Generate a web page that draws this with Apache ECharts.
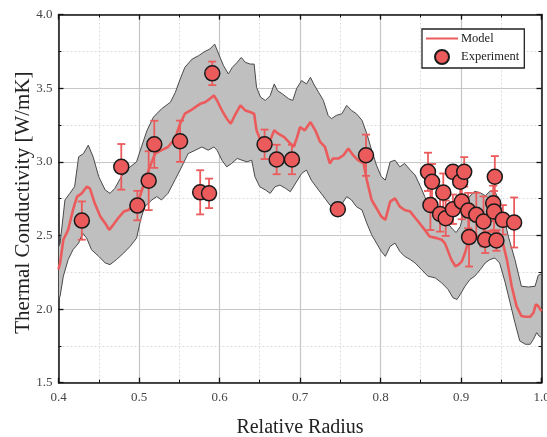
<!DOCTYPE html>
<html>
<head>
<meta charset="utf-8">
<script src="https://cdn.jsdelivr.net/npm/echarts@6/dist/echarts.min.js"></script>
<style>html,body{margin:0;padding:0;background:#fff}#c{width:547px;height:437px}</style>
</head>
<body>
<div id="c"></div>
<script>
const xTicks = [0.4, 0.5, 0.6, 0.7, 0.8, 0.9, 1.0];
const yTicks = [1.5, 2.0, 2.5, 3.0, 3.5, 4.0];

const bandUpper = [[0.400,2.42],[0.402,2.448],[0.408,2.741],[0.414,2.786],[0.420,2.831],[0.425,3.034],[0.431,3.056],[0.437,3.113],[0.443,3.034],[0.450,2.899],[0.458,2.809],[0.464,2.786],[0.470,2.820],[0.478,2.899],[0.489,2.966],[0.497,3.000],[0.503,3.101],[0.510,3.214],[0.518,3.304],[0.528,3.360],[0.539,3.405],[0.545,3.47],[0.551,3.56],[0.557,3.642],[0.566,3.698],[0.574,3.721],[0.582,3.750],[0.588,3.766],[0.594,3.800],[0.599,3.732],[0.605,3.653],[0.611,3.597],[0.616,3.642],[0.622,3.676],[0.627,3.709],[0.632,3.676],[0.638,3.664],[0.643,3.664],[0.646,3.507],[0.651,3.439],[0.657,3.417],[0.663,3.450],[0.668,3.529],[0.672,3.484],[0.678,3.462],[0.686,3.428],[0.691,3.417],[0.696,3.50],[0.702,3.552],[0.708,3.529],[0.713,3.574],[0.717,3.529],[0.723,3.473],[0.729,3.417],[0.735,3.315],[0.739,3.293],[0.745,3.315],[0.752,3.327],[0.758,3.383],[0.764,3.349],[0.770,3.327],[0.777,3.282],[0.783,3.191],[0.789,3.079],[0.795,2.977],[0.801,2.899],[0.806,2.876],[0.812,3.000],[0.818,3.011],[0.824,2.966],[0.830,2.989],[0.837,2.944],[0.843,2.91],[0.849,2.84],[0.855,2.764],[0.861,2.673],[0.868,2.62],[0.876,2.60],[0.884,2.58],[0.890,2.54],[0.894,2.52],[0.899,2.56],[0.904,2.66],[0.910,2.76],[0.917,2.80],[0.924,2.79],[0.930,2.77],[0.936,2.80],[0.942,2.80],[0.947,2.74],[0.953,2.63],[0.959,2.49],[0.967,2.336],[0.975,2.155],[0.984,2.15],[0.992,2.155],[0.996,2.23],[1.000,2.24]];

const bandLower = [[0.400,2.06],[0.402,2.088],[0.406,2.223],[0.412,2.336],[0.418,2.403],[0.425,2.448],[0.430,2.516],[0.435,2.482],[0.441,2.403],[0.450,2.358],[0.458,2.313],[0.464,2.302],[0.472,2.336],[0.481,2.381],[0.489,2.426],[0.497,2.482],[0.502,2.606],[0.507,2.696],[0.516,2.741],[0.522,2.764],[0.528,2.741],[0.536,2.786],[0.545,2.88],[0.553,2.966],[0.561,3.056],[0.570,3.079],[0.578,3.101],[0.586,3.079],[0.593,3.101],[0.597,3.079],[0.603,3.011],[0.609,2.966],[0.615,2.989],[0.622,3.023],[0.628,3.011],[0.634,3.000],[0.640,3.011],[0.644,2.899],[0.650,2.831],[0.657,2.809],[0.663,2.786],[0.669,2.831],[0.675,2.842],[0.682,2.820],[0.688,2.797],[0.694,2.85],[0.702,2.921],[0.708,2.944],[0.714,2.876],[0.723,2.809],[0.731,2.752],[0.737,2.707],[0.743,2.685],[0.750,2.696],[0.758,2.764],[0.764,2.741],[0.770,2.696],[0.777,2.673],[0.783,2.583],[0.789,2.505],[0.795,2.448],[0.801,2.392],[0.806,2.358],[0.812,2.426],[0.818,2.448],[0.824,2.392],[0.830,2.358],[0.837,2.336],[0.843,2.313],[0.851,2.268],[0.859,2.223],[0.868,2.212],[0.876,2.178],[0.884,2.133],[0.890,2.077],[0.895,2.065],[0.899,2.099],[0.905,2.155],[0.911,2.200],[0.917,2.223],[0.924,2.268],[0.930,2.313],[0.936,2.336],[0.942,2.347],[0.948,2.313],[0.955,2.178],[0.961,2.043],[0.967,1.908],[0.973,1.784],[0.980,1.761],[0.986,1.761],[0.990,1.795],[0.994,1.840],[0.997,1.817],[1.000,1.806]];

const modelMean = [[0.400,2.27],[0.402,2.313],[0.406,2.471],[0.412,2.538],[0.418,2.673],[0.423,2.764],[0.429,2.786],[0.435,2.831],[0.439,2.820],[0.445,2.718],[0.452,2.628],[0.458,2.583],[0.463,2.538],[0.468,2.572],[0.474,2.617],[0.481,2.662],[0.487,2.673],[0.495,2.718],[0.501,2.764],[0.505,2.831],[0.512,2.944],[0.520,3.056],[0.528,3.079],[0.536,3.101],[0.545,3.16],[0.551,3.259],[0.557,3.327],[0.564,3.349],[0.570,3.372],[0.576,3.394],[0.582,3.405],[0.588,3.428],[0.593,3.450],[0.597,3.417],[0.603,3.349],[0.609,3.293],[0.614,3.259],[0.619,3.315],[0.626,3.383],[0.632,3.349],[0.638,3.338],[0.643,3.327],[0.646,3.214],[0.651,3.146],[0.657,3.124],[0.663,3.146],[0.668,3.214],[0.673,3.191],[0.680,3.169],[0.686,3.135],[0.692,3.101],[0.696,3.16],[0.700,3.236],[0.706,3.214],[0.713,3.270],[0.719,3.214],[0.725,3.135],[0.731,3.101],[0.737,2.989],[0.741,3.023],[0.748,3.023],[0.754,3.045],[0.760,3.090],[0.766,3.045],[0.772,3.011],[0.779,2.989],[0.783,2.876],[0.789,2.741],[0.795,2.685],[0.801,2.628],[0.806,2.606],[0.812,2.730],[0.818,2.752],[0.824,2.696],[0.830,2.673],[0.837,2.662],[0.843,2.62],[0.849,2.58],[0.855,2.538],[0.861,2.493],[0.870,2.482],[0.876,2.471],[0.880,2.448],[0.884,2.392],[0.888,2.336],[0.893,2.291],[0.897,2.302],[0.901,2.324],[0.905,2.381],[0.909,2.459],[0.915,2.505],[0.922,2.493],[0.928,2.516],[0.934,2.527],[0.940,2.538],[0.946,2.527],[0.951,2.471],[0.957,2.336],[0.963,2.155],[0.969,2.020],[0.975,1.953],[0.980,1.948],[0.986,1.948],[0.990,1.975],[0.993,2.032],[0.996,2.020],[1.000,1.986]];

const expX = [0.429,0.478,0.498,0.512,0.519,0.551,0.576,0.587,0.591,0.656,0.671,0.690,0.747,0.782,0.859,0.864,0.862,0.874,0.878,0.881,0.890,0.890,0.899,0.904,0.901,0.909,0.910,0.919,0.928,0.930,0.940,0.942,0.941,0.944,0.952,0.966];
const expY = [2.601,2.966,2.703,2.872,3.119,3.140,2.793,2.786,3.601,3.119,3.016,3.016,2.678,3.045,2.932,2.865,2.707,2.646,2.791,2.617,2.678,2.932,2.865,2.932,2.730,2.669,2.489,2.640,2.595,2.471,2.718,2.899,2.662,2.466,2.606,2.588];
const expErr = [0.13,0.155,0.10,0.20,0.16,0.14,0.15,0.10,0.08,0.10,0.10,0.10,0.02,0.14,0.13,0.12,0.17,0.12,0.13,0.12,0.10,0.03,0.10,0.10,0.12,0.12,0.20,0.15,0.17,0.09,0.12,0.14,0.14,0.07,0.10,0.17];

const FONT = '"Liberation Serif", "DejaVu Serif", serif';
const RED = '#ec5b5c';

const chart = echarts.init(document.getElementById('c'), null, {renderer: 'canvas'});

const expData = expX.map((x, i) => [x, expY[i]]);
const errData = expX.map((x, i) => [x, expY[i] - expErr[i], expY[i] + expErr[i]]);

function axisCommon(pos, ticks) {
  return {
    type: 'value',
    position: pos,
    min: ticks[0],
    max: ticks[ticks.length - 1],
    interval: ticks[1] - ticks[0],
    axisLine: {show: true, onZero: false, lineStyle: {color: '#111', width: 1.5}},
    axisTick: {show: true, inside: true, length: 5, lineStyle: {color: '#111', width: 1.3}},
    minorTick: {show: true, splitNumber: 2, length: 3, lineStyle: {color: '#111', width: 1}},
    splitLine: {show: false},
    minorSplitLine: {show: false},
    axisLabel: {show: false}
  };
}

const xMain = Object.assign(axisCommon('bottom', xTicks), {
  splitLine: {show: true, lineStyle: {color: '#c6c6c6', width: 1.2}},
  minorSplitLine: {show: true, lineStyle: {color: '#dcdcdc', width: 1, type: [2, 2]}},
  axisLabel: {show: true, formatter: v => v.toFixed(1), fontFamily: FONT, fontSize: 13, color: '#444', margin: 8},
  name: 'Relative Radius',
  nameLocation: 'middle',
  nameGap: 35,
  nameTextStyle: {fontFamily: FONT, fontSize: 20, color: '#222'}
});
const xTop = axisCommon('top', xTicks);
const yMain = Object.assign(axisCommon('left', yTicks), {
  splitLine: {show: true, lineStyle: {color: '#c6c6c6', width: 1.2}},
  minorSplitLine: {show: true, lineStyle: {color: '#dcdcdc', width: 1, type: [2, 2]}},
  axisLabel: {show: true, formatter: v => v.toFixed(1), fontFamily: FONT, fontSize: 13, color: '#444', margin: 6},
  name: 'Thermal Conductivity [W/mK]',
  nameLocation: 'middle',
  nameGap: 25,
  nameMoveOverlap: false,
  nameTextStyle: {fontFamily: FONT, fontSize: 21, color: '#222', padding: [0, 8, 0, 0]}
});
const yRight = axisCommon('right', yTicks);

const option = {
  animation: false,
  backgroundColor: '#fff',
  grid: {left: 58.5, right: 5.5, top: 14.6, bottom: 54.3, containLabel: false, outerBoundsMode: 'none'},
  xAxis: [xMain, xTop],
  yAxis: [yMain, yRight],
  legend: {
    data: [{name: 'Model', itemStyle: {opacity: 0}}, {name: 'Experiment'}],
    orient: 'vertical',
    left: 422, top: 29,
    backgroundColor: '#fff',
    borderColor: '#222', borderWidth: 1.3, borderRadius: 0,
    padding: [3, 5, 3, 3],
    itemGap: 4,
    itemWidth: 32, itemHeight: 14,
    textStyle: {fontFamily: FONT, fontSize: 12.5, color: '#222', padding: [0, 0, 0, -2]}
  },
  series: [
    {
      name: 'band',
      type: 'custom',
      xAxisIndex: 0, yAxisIndex: 0,
      z: 1,
      silent: true,
      data: [[0.7, 3.0]],
      renderItem: function (params, api) {
        const pts = bandUpper.map(p => api.coord(p)).concat(bandLower.slice().reverse().map(p => api.coord(p)));
        return {
          type: 'polygon',
          shape: {points: pts},
          style: {fill: '#bfbfbf', stroke: '#4a4a4a', lineWidth: 1}
        };
      }
    },
    {
      name: 'Model',
      type: 'line',
      z: 2,
      data: modelMean,
      symbol: 'none',
      showSymbol: false,
      lineStyle: {color: RED, width: 2.6},
      itemStyle: {color: RED}
    },
    {
      name: 'errbars',
      type: 'custom',
      z: 3,
      silent: true,
      data: errData,
      renderItem: function (params, api) {
        const x = api.value(0);
        const lo = api.coord([x, api.value(1)]);
        const hi = api.coord([x, api.value(2)]);
        const w = 4;
        const st = {stroke: RED, lineWidth: 1.8};
        return {
          type: 'group',
          children: [
            {type: 'line', shape: {x1: lo[0], y1: lo[1], x2: hi[0], y2: hi[1]}, style: st},
            {type: 'line', shape: {x1: lo[0] - w, y1: lo[1], x2: lo[0] + w, y2: lo[1]}, style: st},
            {type: 'line', shape: {x1: hi[0] - w, y1: hi[1], x2: hi[0] + w, y2: hi[1]}, style: st}
          ]
        };
      }
    },
    {
      name: 'Experiment',
      type: 'scatter',
      z: 4,
      data: expData,
      symbol: 'circle',
      symbolSize: 15,
      itemStyle: {color: RED, borderColor: '#1a1a1a', borderWidth: 1.5, opacity: 1}
    }
  ]
};
chart.setOption(option);
</script>
</body>
</html>
